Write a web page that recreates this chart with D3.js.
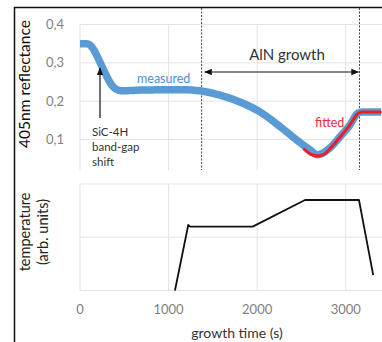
<!DOCTYPE html>
<html>
<head>
<meta charset="utf-8">
<script src="https://cdn.jsdelivr.net/npm/d3@7"></script>
<style>
  html, body { margin: 0; padding: 0; background: #fff; }
  svg { display: block; }
  text { font-family: Lato, "Open Sans", sans-serif; }
</style>
</head>
<body>
<div id="chart"></div>
<script>
"use strict";

// growth time (s) / reflectance
const measuredTime = [0, 80, 120, 170, 225, 280, 330, 380, 430, 500, 600, 700, 800, 900, 1000, 1100, 1200, 1354, 1580, 1806, 2032, 2257, 2483, 2596, 2686, 2822, 2935, 3047, 3138, 3183, 3400];
const measuredRefl = [0.350, 0.350, 0.345, 0.328, 0.302, 0.275, 0.252, 0.236, 0.229, 0.227, 0.228, 0.229, 0.229, 0.230, 0.230, 0.230, 0.230, 0.227, 0.216, 0.198, 0.172, 0.134, 0.092, 0.073, 0.060, 0.078, 0.107, 0.138, 0.169, 0.172, 0.172];

const fittedTime = [2532, 2600, 2686, 2760, 2822, 2935, 3047, 3138, 3183, 3390];
const fittedRefl = [0.074, 0.062, 0.057, 0.062, 0.076, 0.106, 0.138, 0.168, 0.172, 0.172];

const tempTime = [1072, 1222, 1242, 1949, 2540, 3149, 3310];
const tempValue = [0, 1.23, 1.20, 1.20, 1.70, 1.70, 0.29];

const xTicks = [0, 1000, 2000, 3000];
const reflTicks = [0.1, 0.2, 0.3, 0.4];
const tempGrid = [0, 1, 2];
const growthStart = 1373, growthEnd = 3155;

const W = 382, H = 342;
const svg = d3.select("#chart").append("svg").attr("width", W).attr("height", H);

const x = d3.scaleLinear().domain([0, 3400]).range([80, 381.2]);
const yR = d3.scaleLinear().domain([0.1, 0.4]).range([139.5, 24.5]);
const yT = d3.scaleLinear().domain([0, 2]).range([290.5, 184]);
const gridColor = "#e3e3e3";

// frame
svg.append("path").attr("d", "M14.5," + H + "V7.5H" + W)
  .attr("fill", "none").attr("stroke", "#111").attr("stroke-width", 1.5);

// top panel grid
const topPanel = svg.append("g");
topPanel.selectAll(".hg").data(reflTicks).enter().append("line")
  .attr("x1", 80).attr("x2", W).attr("y1", d => yR(d)).attr("y2", d => yR(d))
  .attr("stroke", gridColor);
topPanel.selectAll(".vg").data(xTicks).enter().append("line")
  .attr("x1", d => x(d)).attr("x2", d => x(d)).attr("y1", yR(0.4)).attr("y2", 170)
  .attr("stroke", gridColor);
topPanel.selectAll(".yl").data(reflTicks).enter().append("text")
  .attr("x", 64).attr("y", d => yR(d)).attr("dy", "0.35em")
  .attr("text-anchor", "end").attr("fill", "#7f7f7f").attr("font-size", 13)
  .text(d => d3.format(".1f")(d).replace(".", ","));

// bottom panel grid
const botPanel = svg.append("g");
botPanel.selectAll(".hg").data(tempGrid).enter().append("line")
  .attr("x1", 80).attr("x2", W).attr("y1", d => yT(d)).attr("y2", d => yT(d))
  .attr("stroke", gridColor);
botPanel.selectAll(".vg").data(xTicks).enter().append("line")
  .attr("x1", d => x(d)).attr("x2", d => x(d)).attr("y1", yT(2)).attr("y2", yT(0))
  .attr("stroke", gridColor);
botPanel.selectAll(".xl").data(xTicks).enter().append("text")
  .attr("x", d => x(d)).attr("y", 309).attr("dy", "0.35em")
  .attr("text-anchor", "middle").attr("fill", "#7f7f7f").attr("font-size", 13)
  .text(d => d);

// dashed growth markers
svg.selectAll(".dash").data([growthStart, growthEnd]).enter().append("line")
  .attr("x1", d => x(d)).attr("x2", d => x(d)).attr("y1", 8).attr("y2", 170)
  .attr("stroke", "#444").attr("stroke-width", 1).attr("stroke-dasharray", "2,1.5");

// reflectance curves
const lineR = d3.line().x(d => x(d[0])).y(d => yR(d[1])).curve(d3.curveMonotoneX);
svg.append("path").datum(d3.zip(measuredTime, measuredRefl))
  .attr("d", lineR).attr("fill", "none").attr("stroke", "#5b9bd5")
  .attr("stroke-width", 7.5).attr("stroke-linejoin", "round");
svg.append("path").datum(d3.zip(fittedTime, fittedRefl))
  .attr("d", lineR).attr("fill", "none").attr("stroke", "#ee1c25")
  .attr("stroke-width", 3).attr("stroke-linejoin", "round").attr("stroke-linecap", "round");

// temperature
const lineT = d3.line().x(d => x(d[0])).y(d => yT(d[1]));
svg.append("path").datum(d3.zip(tempTime, tempValue))
  .attr("d", lineT).attr("fill", "none").attr("stroke", "#111")
  .attr("stroke-width", 1.8).attr("stroke-linejoin", "round");

// arrows
const defs = svg.append("defs");
defs.append("marker").attr("id", "head").attr("viewBox", "0 0 10 10")
  .attr("refX", 9).attr("refY", 5).attr("markerWidth", 8).attr("markerHeight", 8)
  .attr("markerUnits", "userSpaceOnUse").attr("orient", "auto-start-reverse")
  .append("path").attr("d", "M0,1L10,5L0,9Z").attr("fill", "#111");

svg.append("line").attr("x1", x(growthStart) + 3).attr("x2", x(growthEnd) - 1)
  .attr("y1", 72).attr("y2", 72).attr("stroke", "#111").attr("stroke-width", 1.2)
  .attr("marker-start", "url(#head)").attr("marker-end", "url(#head)");
svg.append("line").attr("x1", 100).attr("x2", 100).attr("y1", 118).attr("y2", 68)
  .attr("stroke", "#111").attr("stroke-width", 1.2).attr("marker-end", "url(#head)");

// labels
svg.append("text").attr("x", 287).attr("y", 55).attr("dy", "0.35em")
  .attr("text-anchor", "middle").attr("fill", "#333").attr("font-size", 15).text("AlN growth");
svg.append("text").attr("x", 137).attr("y", 79).attr("dy", "0.35em")
  .attr("fill", "#4a8fd4").attr("font-size", 12.5).text("measured");
svg.append("text").attr("x", 315).attr("y", 123).attr("dy", "0.35em")
  .attr("fill", "#ee2a36").attr("font-size", 12.5).text("fitted");
svg.selectAll(".sic").data(["SiC-4H", "band-gap", "shift"]).enter().append("text")
  .attr("x", 92).attr("y", (d, i) => 132 + i * 15).attr("dy", "0.35em")
  .attr("fill", "#333").attr("font-size", 11.5).text(d => d);

svg.append("text").attr("transform", "translate(25,84) rotate(-90)").attr("dy", "0.35em")
  .attr("text-anchor", "middle").attr("fill", "#111").attr("font-size", 15.5).text("405nm reflectance");
svg.selectAll(".tl").data(["temperature", "(arb. units)"]).enter().append("text")
  .attr("transform", (d, i) => "translate(" + (25 + i * 18) + ",232) rotate(-90)")
  .attr("dy", "0.35em").attr("text-anchor", "middle").attr("fill", "#222")
  .attr("font-size", 14.5).text(d => d);
svg.append("text").attr("x", 237).attr("y", 333).attr("dy", "0.35em")
  .attr("text-anchor", "middle").attr("fill", "#333").attr("font-size", 14).text("growth time (s)");
</script>
</body>
</html>
